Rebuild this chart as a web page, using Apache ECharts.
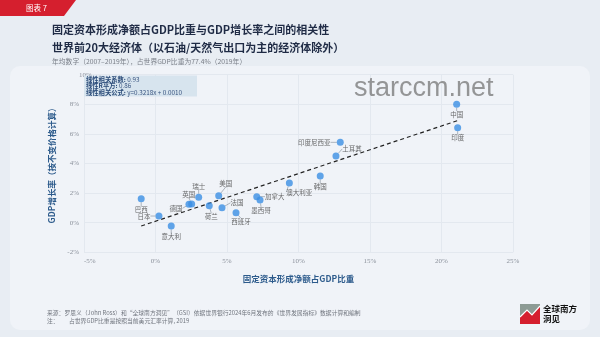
<!DOCTYPE html>
<html>
<head>
<meta charset="utf-8">
<script src="https://cdn.jsdelivr.net/npm/echarts@6/dist/echarts.min.js"></script>
<style>
  html, body { margin: 0; padding: 0; background: #e8edf3; }
  #chart { width: 600px; height: 337px; }
</style>
</head>
<body>
<div id="chart"></div>
<script>
// Economies (top 20 by GDP, oil/gas exporters excluded)
const economies = ['巴西', '日本', '意大利', '德国', '英国', '瑞士', '荷兰', '美国', '法国', '西班牙',
  '加拿大', '墨西哥', '澳大利亚', '韩国', '印度尼西亚', '土耳其', '中国', '印度'];
// Net fixed capital formation, % of GDP (annual average 2007–2019)
const netCapitalShare = [-1.0, 0.24, 1.1, 2.34, 2.53, 3.02, 3.76, 4.42, 4.65, 5.63,
  7.08, 7.31, 9.36, 11.52, 12.92, 12.62, 21.06, 21.13];
// GDP growth at constant prices, % (annual average 2007–2019)
const gdpGrowth = [1.62, 0.45, -0.22, 1.24, 1.26, 1.72, 1.15, 1.82, 1.01, 0.68,
  1.76, 1.53, 2.68, 3.16, 5.43, 4.51, 8.0, 6.42];

// Regression statistics
const correlation = 0.93;
const rSquared = 0.86;
const slope = 0.3218;
const intercept = 0.0010;

// Axis ticks
const xTicks = [-5, 0, 5, 10, 15, 20, 25];
const yTicks = [-2, 0, 2, 4, 6, 8, 10];

// Where each name label sits relative to its dot (pixels)
const labelShift = {
  '巴西': [0, 11], '日本': [-15, 0], '意大利': [0, 11], '德国': [-13, 4], '英国': [-3, -10],
  '瑞士': [0, -11], '荷兰': [2, 11], '美国': [7, -12], '法国': [15, -5], '西班牙': [5, 9],
  '加拿大': [18, 0], '墨西哥': [1, 10], '澳大利亚': [10, 9], '韩国': [0, 11],
  '印度尼西亚': [-26, 0], '土耳其': [16, -7], '中国': [0, 10], '印度': [0, 10]
};

const points = economies.map((name, i) => ({ name, value: [netCapitalShare[i], gdpGrowth[i]] }));

// Fitted line across the observed range (percent units)
const xMinObs = Math.min(...netCapitalShare);
const xMaxObs = Math.max(...netCapitalShare);
const fit = x => slope * x + intercept * 100;
const trend = [[xMinObs, fit(xMinObs)], [xMaxObs, fit(xMaxObs)]];

const CJK = '"Noto Sans CJK SC", "Noto Sans", sans-serif';
const SERIF = '"Liberation Serif", "DejaVu Serif", serif';
const navy = '#1f2b45';
const axisBlue = '#2d5b8c';

// one line of the statistics box: bold caption followed by a plain value
function statLine(y, caption, value) {
  return { type: 'text', z: 5, x: 86, y: y,
    style: {
      text: '{b|' + caption + '}{v| ' + value + '}',
      textVerticalAlign: 'middle',
      rich: {
        b: { fontWeight: 'bold', fontSize: 6.3, fontFamily: CJK, fill: '#2a4a78' },
        v: { fontSize: 6.3, fontFamily: CJK, fill: '#3a5580' }
      }
    } };
}

const chart = echarts.init(document.getElementById('chart'), null, { renderer: 'canvas' });

chart.setOption({
  backgroundColor: '#e8edf3',
  animation: false,
  grid: {
    left: 84, right: 87, top: 74.7, bottom: 84.7,
    containLabel: false, outerBoundsMode: 'none'
  },
  xAxis: {
    type: 'value', min: xTicks[0], max: xTicks[xTicks.length - 1], interval: 5,
    axisLine: { show: false }, axisTick: { show: false },
    splitLine: { lineStyle: { color: '#e3e8ef', width: 1 } },
    axisLabel: {
      formatter: '{value}%', color: '#8b919b', fontSize: 7, fontFamily: SERIF,
      margin: 5, alignMinLabel: 'left'
    },
    name: '固定资本形成净额占GDP比重', nameLocation: 'middle', nameGap: 22,
    nameTextStyle: { color: axisBlue, fontSize: 8.5, fontWeight: 'bold', fontFamily: CJK }
  },
  yAxis: {
    type: 'value', min: yTicks[0], max: yTicks[yTicks.length - 1], interval: 2,
    axisLine: { show: false }, axisTick: { show: false },
    splitLine: { lineStyle: { color: '#e3e8ef', width: 1 } },
    axisLabel: {
      formatter: '{value}%', color: '#8b919b', fontSize: 7, fontFamily: SERIF,
      margin: 5, alignMaxLabel: 'top'
    },
    name: 'GDP增长率（按不变价格计算）', nameLocation: 'middle', nameGap: 24,
    nameTextStyle: { color: axisBlue, fontSize: 8.5, fontWeight: 'bold', fontFamily: CJK }
  },
  series: [
    {
      type: 'line', data: trend, symbol: 'none', silent: true, z: 2,
      lineStyle: { color: '#222', width: 1.2, type: [4, 3] }
    },
    {
      type: 'scatter', data: points, symbolSize: 7, z: 3,
      itemStyle: { color: '#3b8fe3' },
      label: {
        show: true, formatter: '{b}', position: 'inside',
        color: '#444', fontSize: 6.5, fontFamily: CJK
      },
      labelLine: { show: true, lineStyle: { color: '#9aa3ad', width: 0.8 } },
      labelLayout: function (p) {
        const name = economies[p.dataIndex];
        const s = labelShift[name] || [0, 10];
        const cx = p.rect.x + p.rect.width / 2;
        const cy = p.rect.y + p.rect.height / 2;
        return { x: cx + s[0], y: cy + s[1], align: 'center', verticalAlign: 'middle' };
      }
    }
  ],
  graphic: [
    // content card
    { type: 'rect', z: -10, shape: { x: 10, y: 66, width: 580, height: 264, r: 10 },
      style: { fill: '#f0f3f8' }, silent: true },
    // red tab
    { type: 'polygon', z: 5, shape: { points: [[0, 0], [76, 0], [64, 16], [0, 16]] },
      style: { fill: '#d51f2e' } },
    { type: 'text', z: 6, x: 26, y: 8,
      style: { text: '图表 7', fill: '#fff', font: '7.5px ' + CJK, textVerticalAlign: 'middle' } },
    // titles
    { type: 'text', z: 6, x: 52, y: 30,
      style: { text: '固定资本形成净额占GDP比重与GDP增长率之间的相关性', fill: navy,
        font: 'bold 11px ' + CJK, textVerticalAlign: 'middle' } },
    { type: 'text', z: 6, x: 52, y: 48,
      style: { text: '世界前20大经济体（以石油/天然气出口为主的经济体除外）', fill: navy,
        font: 'bold 11px ' + CJK, textVerticalAlign: 'middle' } },
    { type: 'text', z: 6, x: 52, y: 61,
      style: { text: '年均数字（2007–2019年），占世界GDP比重为77.4%（2019年）', fill: '#7a7f88',
        font: '6.8px ' + CJK, textVerticalAlign: 'middle' } },
    // regression statistics box
    { type: 'rect', z: 4, shape: { x: 84, y: 75.5, width: 113, height: 21 },
      style: { fill: '#d7e4ee' } },
    statLine(79.8, '线性相关系数:', correlation.toFixed(2)),
    statLine(85.9, '线性R平方:', rSquared.toFixed(2)),
    statLine(92.4, '线性相关公式:', 'y=' + slope.toFixed(4) + 'x + ' + intercept.toFixed(4)),
    // site mark
    { type: 'text', z: 8, x: 354, y: 102,
      style: { text: 'starccm.net', fill: 'rgba(125,125,125,0.8)', font: '27px "Liberation Sans", Arial, sans-serif',
        textVerticalAlign: 'bottom' } },
    // footer
    { type: 'text', z: 6, x: 47, y: 313,
      style: { text: '来源：罗思义（John Ross）和“全球南方洞见”（GSI）依据世界银行2024年6月发布的《世界发展指标》数据计算和编制',
        fill: '#70757e', font: '5.8px ' + CJK, textVerticalAlign: 'middle' } },
    { type: 'text', z: 6, x: 47, y: 321,
      style: { text: '注：', fill: '#70757e', font: '5.8px ' + CJK, textVerticalAlign: 'middle' } },
    { type: 'text', z: 6, x: 69, y: 321,
      style: { text: '占世界GDP比重是按照当前美元汇率计算, 2019', fill: '#70757e', font: '5.8px ' + CJK,
        textVerticalAlign: 'middle' } },
    // logo
    { type: 'rect', z: 6, shape: { x: 520, y: 304, width: 20, height: 20 }, style: { fill: '#8d9b95' } },
    { type: 'polygon', z: 7, shape: { points: [[520, 317], [527, 310], [532, 315], [540, 306], [540, 324], [520, 324]] },
      style: { fill: '#d51f2e' } },
    { type: 'polyline', z: 8, shape: { points: [[520, 317], [527, 310], [532, 315], [540, 306]] },
      style: { stroke: '#fff', lineWidth: 1.2, fill: null } },
    { type: 'text', z: 6, x: 543, y: 309,
      style: { text: '全球南方', fill: '#111', font: 'bold 8.5px ' + CJK, textVerticalAlign: 'middle' } },
    { type: 'text', z: 6, x: 543, y: 319,
      style: { text: '洞见', fill: '#111', font: 'bold 8.5px ' + CJK, textVerticalAlign: 'middle' } }
  ]
});
</script>
</body>
</html>
